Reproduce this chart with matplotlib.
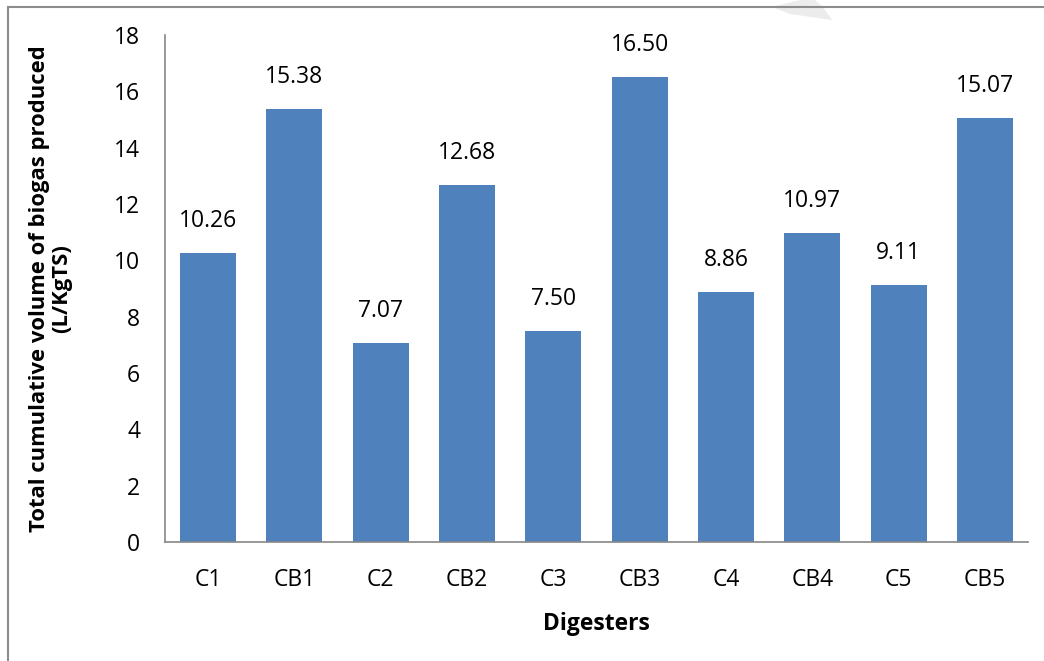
import matplotlib.pyplot as plt
from matplotlib import patches

digesters = ['C1', 'CB1', 'C2', 'CB2', 'C3', 'CB3', 'C4', 'CB4', 'C5', 'CB5']
biogas = [10.26, 15.38, 7.07, 12.68, 7.50, 16.50, 8.86, 10.97, 9.11, 15.07]
yticks = [0, 2, 4, 6, 8, 10, 12, 14, 16, 18]

plt.rcParams['font.family'] = ['Open Sans', 'DejaVu Sans']
FS = 16.5

W, H = 1044, 661
fig = plt.figure(figsize=(W / 100, H / 100), dpi=100)
ax = fig.add_axes([165 / W, 1 - 542 / H, (1028 - 165) / W, (542 - 35) / H])

x = range(len(digesters))
bars = ax.bar(x, biogas, width=0.65, color='#4F81BD', zorder=2)
for b, v in zip(bars, biogas):
    ax.annotate(f'{v:.2f}', (b.get_x() + b.get_width() / 2, v),
                xytext=(0, 20), textcoords='offset pixels',
                ha='center', va='bottom', fontsize=FS, color='black')

ax.set_xlim(-0.5, len(digesters) - 0.5)
ax.set_ylim(0, 18)
ax.set_yticks(yticks)
ax.set_xticks(list(x))
ax.set_xticklabels(digesters)
ax.tick_params(length=0, labelsize=FS)
ax.tick_params(axis='y', pad=18)
ax.tick_params(axis='x', pad=19)

for side in ['top', 'right']:
    ax.spines[side].set_visible(False)
for side in ['left', 'bottom']:
    ax.spines[side].set_color('#868686')
    ax.spines[side].set_linewidth(1.2)

ax.set_ylabel('Total cumulative volume of biogas produced\n(L/KgTS)',
              fontsize=15.8, fontweight='bold', linespacing=1.05)
ax.yaxis.set_label_coords(-(165 - 72) / (1028 - 165), 0.5)
ax.set_xlabel('Digesters', fontsize=FS, fontweight='bold', labelpad=14)

# outer frame lines (left and top)
fig.add_artist(plt.Line2D([8 / W, 8 / W], [0, 1 - 7 / H], transform=fig.transFigure,
                          color='#8c8c8c', lw=1.5))
fig.add_artist(plt.Line2D([8 / W, 1], [1 - 7 / H, 1 - 7 / H], transform=fig.transFigure,
                          color='#8c8c8c', lw=1.5))

# faint grey mark at the top edge
mark = patches.Polygon([[772 / W, 1 - 7 / H], [800 / W, 1.0], [815 / W, 1.0], [823 / W, 1 - 7 / H],
                        [832 / W, 1 - 20 / H], [790 / W, 1 - 14 / H]],
                       closed=True, transform=fig.transFigure, facecolor='#ececec',
                       edgecolor='none', zorder=0)
fig.add_artist(mark)

fig.savefig('out.png', dpi=100, facecolor='white')
